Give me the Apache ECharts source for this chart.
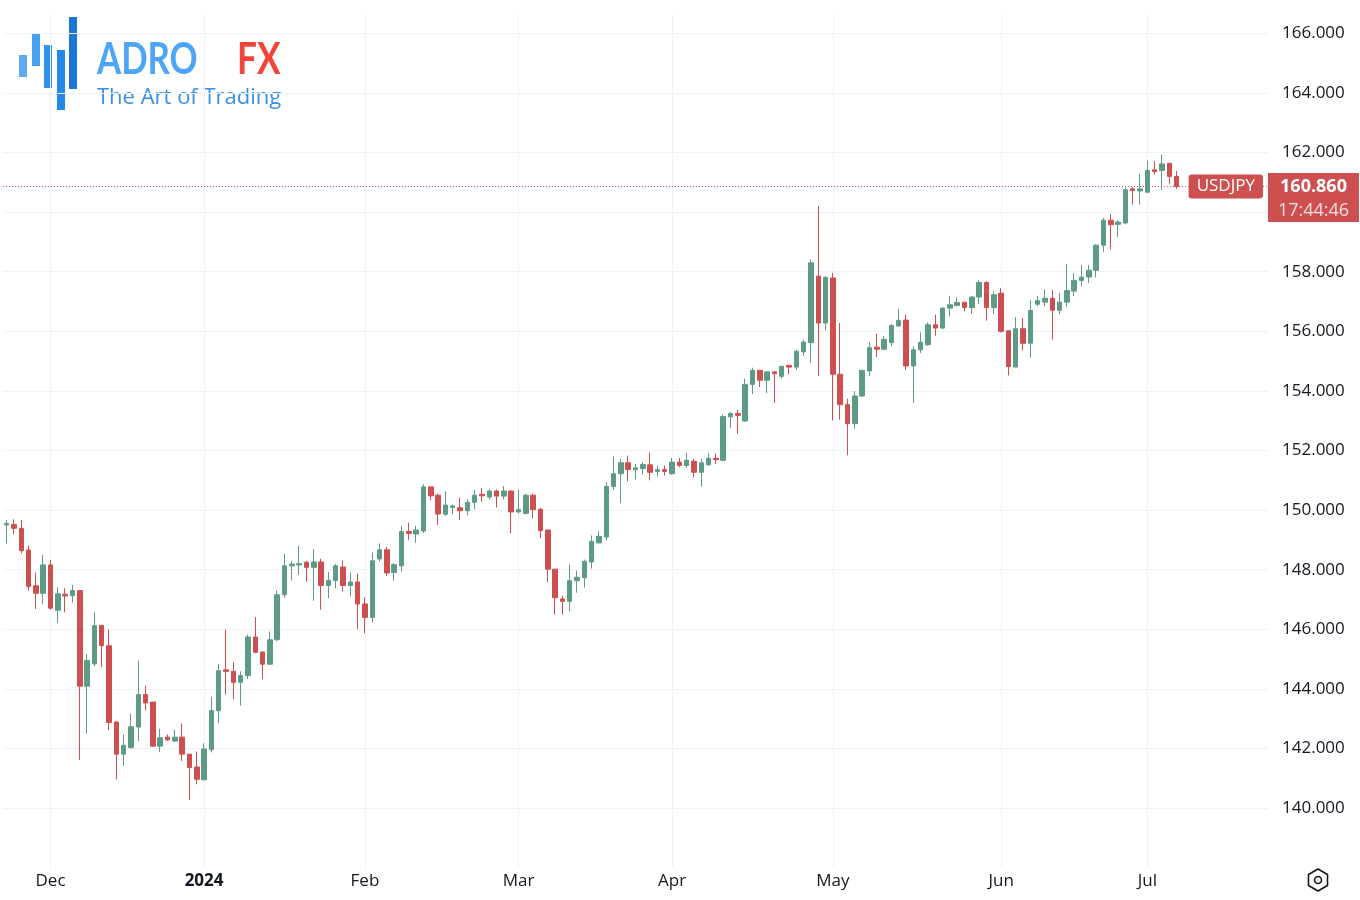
<!DOCTYPE html>
<html>
<head>
<meta charset="utf-8">
<title>USDJPY</title>
<script src="https://cdn.jsdelivr.net/npm/echarts@6/dist/echarts.min.js"></script>
<style>
  html, body { margin: 0; padding: 0; background: #fff; }
  #chart { width: 1360px; height: 900px; }
</style>
</head>
<body>
<div id="chart"></div>
<script>
// trading sessions shown on the chart (month -> days)
const tradingDays = [
  ['2023-11', [23, 24, 27, 28, 29, 30]],
  ['2023-12', [1, 4, 5, 6, 7, 8, 11, 12, 13, 14, 15, 18, 19, 20, 21, 22, 25, 26, 27, 28, 29]],
  ['2024-01', [2, 3, 4, 5, 8, 9, 10, 11, 12, 15, 16, 17, 18, 19, 22, 23, 24, 25, 26, 29, 30, 31]],
  ['2024-02', [1, 2, 5, 6, 7, 8, 9, 12, 13, 14, 15, 16, 19, 20, 21, 22, 23, 26, 27, 28, 29]],
  ['2024-03', [1, 4, 5, 6, 7, 8, 11, 12, 13, 14, 15, 18, 19, 20, 21, 22, 25, 26, 27, 28, 29]],
  ['2024-04', [1, 2, 3, 4, 5, 8, 9, 10, 11, 12, 15, 16, 17, 18, 19, 22, 23, 24, 25, 26, 29, 30]],
  ['2024-05', [1, 2, 3, 6, 7, 8, 9, 10, 13, 14, 15, 16, 17, 20, 21, 22, 23, 24, 27, 28, 29, 30, 31]],
  ['2024-06', [3, 4, 5, 6, 7, 10, 11, 12, 13, 14, 17, 18, 19, 20, 21, 24, 25, 26, 27, 28]],
  ['2024-07', [1, 2, 3, 4, 5]]
];
// empty sessions to the right of the last candle
const futureDays = [['2024-07', [8, 9, 10, 11, 12, 15, 16, 17, 18, 19, 22, 23]]];

const monthNames = ['Jan', 'Feb', 'Mar', 'Apr', 'May', 'Jun', 'Jul', 'Aug', 'Sep', 'Oct', 'Nov', 'Dec'];

const opens = [
  149.50, 149.52, 149.39, 148.66, 147.46, 147.21,
  148.16, 146.64, 147.18, 147.13, 147.30, 144.09, 144.84, 146.13, 145.45, 142.89, 141.81, 142.03, 142.72, 143.81, 143.56, 142.08, 142.38, 142.25, 142.38, 141.81, 141.38,
  140.95, 141.96, 143.27, 144.64, 144.59, 144.22, 144.45, 145.74, 145.24, 144.83, 145.65, 147.16, 148.13, 148.16, 148.25, 148.08, 148.26, 147.47, 147.64, 148.09, 147.47, 147.59,
  146.85, 146.40, 148.36, 148.67, 147.91, 148.13, 149.28, 149.20, 149.30, 150.78, 150.50, 149.86, 150.09, 150.08, 149.98, 150.26, 150.53, 150.44, 150.64, 150.47, 150.64,
  149.94, 149.89, 150.50, 150.03, 149.33, 148.02, 147.02, 146.94, 147.63, 147.74, 148.26, 148.90, 149.10, 150.79, 151.22, 151.59, 151.36, 151.39, 151.52, 151.30, 151.36,
  151.22, 151.61, 151.50, 151.64, 151.27, 151.52, 151.74, 151.67, 153.13, 153.24, 152.99, 154.22, 154.69, 154.36, 154.64, 154.49, 154.86, 154.80, 155.31, 155.62, 157.85, 156.28,
  157.79, 154.56, 153.54, 152.90, 153.83, 154.67, 155.47, 155.40, 155.62, 156.18, 156.38, 154.84, 155.38, 155.55, 156.22, 156.11, 156.78, 156.87, 156.98, 156.80, 157.15, 157.64, 156.80,
  157.28, 156.02, 154.80, 156.09, 155.60, 156.91, 156.98, 157.11, 156.71, 156.98, 157.35, 157.71, 157.82, 158.05, 158.89, 159.73, 159.59, 159.64, 160.78, 160.71,
  160.67, 161.42, 161.40, 161.64, 161.20
];
const closes = [
  149.55, 149.39, 148.64, 147.44, 147.21, 148.16,
  146.71, 147.19, 147.12, 147.30, 144.09, 144.95, 146.12, 145.45, 142.87, 141.81, 142.11, 142.73, 143.81, 143.53, 142.08, 142.36, 142.29, 142.38, 141.81, 141.36, 140.97,
  141.98, 143.27, 144.61, 144.59, 144.22, 144.45, 145.74, 145.23, 144.83, 145.65, 147.16, 148.13, 148.19, 148.20, 148.08, 148.26, 147.47, 147.64, 148.13, 147.47, 147.59, 146.85,
  146.40, 148.30, 148.67, 147.89, 148.17, 149.28, 149.22, 149.33, 150.78, 150.48, 149.87, 150.17, 150.14, 149.98, 150.26, 150.50, 150.48, 150.64, 150.47, 150.64, 149.94,
  150.02, 150.50, 150.02, 149.31, 148.02, 147.06, 146.94, 147.63, 147.75, 148.28, 148.95, 149.12, 150.79, 151.22, 151.59, 151.36, 151.42, 151.53, 151.27, 151.36, 151.30,
  151.61, 151.50, 151.67, 151.27, 151.59, 151.74, 151.69, 153.14, 153.24, 153.18, 154.22, 154.69, 154.36, 154.64, 154.58, 154.83, 154.80, 155.33, 155.64, 158.30, 156.28, 157.81,
  154.56, 153.54, 152.90, 153.83, 154.69, 155.45, 155.40, 155.73, 156.20, 156.37, 154.84, 155.38, 155.63, 156.22, 156.11, 156.78, 156.89, 156.97, 156.80, 157.15, 157.64, 156.80, 157.23,
  156.00, 154.82, 156.09, 155.60, 156.70, 157.03, 157.11, 156.71, 156.98, 157.37, 157.71, 157.82, 158.05, 158.89, 159.73, 159.58, 159.67, 160.75, 160.73, 160.78,
  161.40, 161.36, 161.62, 161.20, 160.86
];
const lows = [
  148.88, 149.19, 148.55, 147.30, 146.68, 146.85,
  146.66, 146.21, 146.57, 146.90, 141.62, 142.50, 144.76, 144.73, 142.62, 140.97, 141.42, 142.00, 142.25, 143.28, 142.06, 141.88, 142.25, 142.22, 141.58, 140.27, 140.80,
  140.95, 141.87, 142.85, 143.81, 143.66, 143.44, 144.33, 145.20, 144.33, 144.81, 145.60, 147.05, 147.64, 147.83, 147.60, 146.96, 146.66, 147.05, 147.38, 147.27, 147.10, 146.00,
  145.87, 146.23, 148.28, 147.80, 147.63, 147.94, 149.00, 148.91, 149.24, 150.33, 149.50, 149.80, 149.86, 149.67, 149.83, 150.02, 150.28, 150.36, 150.09, 150.36, 149.22,
  149.89, 149.86, 149.72, 149.06, 147.58, 146.50, 146.50, 146.61, 147.23, 147.40, 148.04, 148.90, 148.99, 150.68, 150.24, 150.97, 151.03, 151.20, 151.00, 151.13, 151.16,
  151.20, 151.44, 151.41, 151.10, 150.79, 151.50, 151.55, 151.64, 152.75, 152.56, 152.96, 153.89, 154.13, 153.93, 153.60, 154.41, 154.55, 154.71, 155.17, 154.94, 154.50, 156.04,
  153.01, 153.03, 151.84, 152.73, 153.80, 154.50, 155.14, 155.36, 155.50, 156.15, 154.70, 153.60, 155.27, 155.51, 155.85, 156.07, 156.50, 156.84, 156.67, 156.58, 156.91, 156.36, 156.58,
  155.96, 154.52, 154.80, 155.36, 155.12, 156.84, 156.84, 155.72, 156.57, 156.82, 157.18, 157.51, 157.62, 157.81, 158.67, 158.74, 159.17, 159.59, 160.26, 160.25,
  160.64, 161.26, 160.75, 160.95, 160.78
];
const highs = [
  149.67, 149.69, 149.67, 148.81, 147.90, 148.50,
  148.33, 147.41, 147.38, 147.49, 147.32, 145.18, 146.58, 146.14, 145.99, 142.90, 142.47, 143.17, 144.95, 144.11, 143.56, 142.66, 142.47, 142.64, 142.84, 141.81, 141.90,
  142.18, 143.73, 144.83, 145.99, 144.90, 144.59, 145.82, 146.41, 145.24, 145.93, 147.30, 148.54, 148.30, 148.80, 148.30, 148.69, 148.37, 147.92, 148.20, 148.31, 147.91, 147.87,
  147.08, 148.58, 148.89, 148.77, 148.22, 149.47, 149.58, 149.47, 150.87, 150.78, 150.56, 150.63, 150.19, 150.42, 150.37, 150.67, 150.74, 150.70, 150.69, 150.81, 150.66,
  150.69, 150.56, 150.56, 150.08, 149.36, 148.02, 147.13, 148.17, 147.97, 148.34, 149.15, 149.29, 150.94, 151.80, 151.72, 151.83, 151.55, 151.61, 151.94, 151.50, 151.50,
  151.75, 151.75, 151.92, 151.72, 151.72, 151.92, 151.91, 153.21, 153.29, 153.37, 154.41, 154.78, 154.69, 154.64, 154.64, 154.83, 154.86, 155.39, 155.72, 158.41, 160.20, 157.85,
  157.96, 156.28, 153.74, 153.99, 154.71, 155.64, 155.92, 155.85, 156.23, 156.76, 156.56, 155.50, 155.96, 156.30, 156.56, 156.81, 157.19, 157.14, 156.98, 157.19, 157.73, 157.68, 157.34,
  157.45, 156.02, 156.48, 156.44, 157.06, 157.19, 157.41, 157.39, 157.29, 158.26, 157.95, 158.23, 158.23, 158.92, 159.81, 159.93, 159.73, 160.82, 160.84, 161.29,
  161.73, 161.71, 161.93, 161.64, 161.38
];

const symbolName = 'USDJPY';
const countdown = '17:44:46';

const UP = '#5e9b86';
const DOWN = '#cd4f4f';
const GRID = '#eff1f5';
const TEXT = '#131722';
const FONT = '"Open Sans", "Noto Sans", sans-serif';

const dates = [];
tradingDays.concat(futureDays).forEach(([m, days]) => {
  days.forEach(d => dates.push(m + '-' + String(d).padStart(2, '0')));
});

// first session of each month gets a label and a vertical grid line
const monthStarts = new Set();
dates.forEach((d, i) => {
  if (i > 0 && i < opens.length && d.slice(0, 7) !== dates[i - 1].slice(0, 7)) monthStarts.add(i);
});
const isMonthStart = (index) => monthStarts.has(index);

const candles = opens.map((o, i) => [o, closes[i], lows[i], highs[i]]);
const lastPrice = closes[closes.length - 1];

const chart = echarts.init(document.getElementById('chart'));

const option = {
  backgroundColor: '#ffffff',
  animation: false,
  textStyle: { fontFamily: FONT },
  grid: { left: 3, right: 92, top: 14, bottom: 32.3 },
  xAxis: {
    type: 'category',
    data: dates,
    boundaryGap: true,
    axisLine: { show: false },
    axisTick: { show: false },
    axisLabel: {
      interval: isMonthStart,
      margin: 5,
      color: TEXT,
      fontSize: 17,
      fontFamily: FONT,
      formatter: (value) => {
        const [y, m] = value.split('-');
        if (m === '01') return '{yr|' + y + '}';
        return monthNames[+m - 1];
      },
      rich: { yr: { fontWeight: 'bold', fontSize: 17, color: TEXT, fontFamily: FONT } }
    },
    splitLine: {
      show: true,
      interval: isMonthStart,
      alignWithLabel: true,
      lineStyle: { color: GRID, width: 1 }
    }
  },
  yAxis: {
    type: 'value',
    position: 'right',
    min: 138,
    max: 166.65,
    interval: 2,
    axisLine: { show: false },
    axisTick: { show: false },
    axisLabel: {
      showMinLabel: false,
      showMaxLabel: false,
      margin: 14,
      color: TEXT,
      fontSize: 17,
      fontFamily: FONT,
      formatter: (v) => (v % 2 === 0 ? v.toFixed(3) : '')
    },
    splitLine: {
      show: true,
      showMinLine: false,
      showMaxLine: false,
      lineStyle: { color: GRID, width: 1 }
    }
  },
  series: [{
    type: 'candlestick',
    name: symbolName,
    data: candles,
    barWidth: 5,
    itemStyle: {
      color: UP,
      color0: DOWN,
      borderColor: UP,
      borderColor0: DOWN,
      borderWidth: 1
    },
    markLine: {
      silent: true,
      symbol: ['none', 'none'],
      animation: false,
      data: [
        {
          yAxis: lastPrice,
          lineStyle: { color: DOWN, type: [1, 2], width: 1 },
          label: {
            position: 'end',
            distance: 0,
            formatter: '{s| }\n{a|' + lastPrice.toFixed(3) + '}\n{b|' + countdown + '}',
            rich: {
              s: { width: 91, height: 22, fontSize: 10 },
              a: { width: 91, height: 27, align: 'center', backgroundColor: DOWN, color: '#ffffff', fontSize: 18, fontWeight: 'bold', fontFamily: FONT },
              b: { width: 91, height: 22, align: 'center', backgroundColor: DOWN, color: 'rgba(255,255,255,0.82)', fontSize: 18, fontFamily: FONT, verticalAlign: 'top' }
            }
          }
        },
        {
          yAxis: lastPrice,
          lineStyle: { color: 'rgba(0,0,0,0)', width: 0 },
          label: {
            position: 'insideEndTop',
            distance: [5, -12],
            formatter: symbolName,
            color: '#ffffff',
            backgroundColor: DOWN,
            borderRadius: 3,
            padding: [3, 8, 3, 8],
            lineHeight: 18,
            fontSize: 17,
            fontFamily: FONT
          }
        }
      ]
    }
  }],
  graphic: [
    { type: 'rect', shape: { x: 19, y: 55, width: 8, height: 22 }, style: { fill: '#5eaaf2' } },
    { type: 'rect', shape: { x: 32, y: 33, width: 8, height: 33 }, style: { fill: '#47a0f2' } },
    { type: 'rect', shape: { x: 44, y: 45, width: 8, height: 43 }, style: { fill: '#2f93ee' } },
    { type: 'rect', shape: { x: 57, y: 50, width: 8, height: 60 }, style: { fill: '#2389e9' } },
    { type: 'rect', shape: { x: 69, y: 17, width: 8, height: 72 }, style: { fill: '#1b77d6' } },
    {
      type: 'text', x: 97, y: 60, scaleX: 0.79,
      style: { text: 'ADRO', fill: '#4ca5f6', font: 'bold 44px Lato, "Open Sans", sans-serif', textVerticalAlign: 'middle' }
    },
    {
      type: 'text', x: 237, y: 60, scaleX: 0.8,
      style: { text: 'FX', fill: '#f2453a', font: 'bold 44px Lato, "Open Sans", sans-serif', textVerticalAlign: 'middle' }
    },
    {
      type: 'text', x: 97, y: 98,
      style: { text: 'The Art of Trading', fill: '#3a8fe4', font: '22px "Open Sans", sans-serif', textVerticalAlign: 'middle' }
    },
    {
      type: 'polygon',
      shape: { points: [[1318, 869], [1327.5, 874.5], [1327.5, 885.5], [1318, 891], [1308.5, 885.5], [1308.5, 874.5]] },
      style: { fill: 'none', stroke: TEXT, lineWidth: 1.6, lineJoin: 'round' }
    },
    { type: 'circle', shape: { cx: 1318, cy: 880, r: 3.5 }, style: { fill: 'none', stroke: TEXT, lineWidth: 1.6 } }
  ]
};

chart.setOption(option);
window.addEventListener('resize', () => chart.resize());
</script>
</body>
</html>
